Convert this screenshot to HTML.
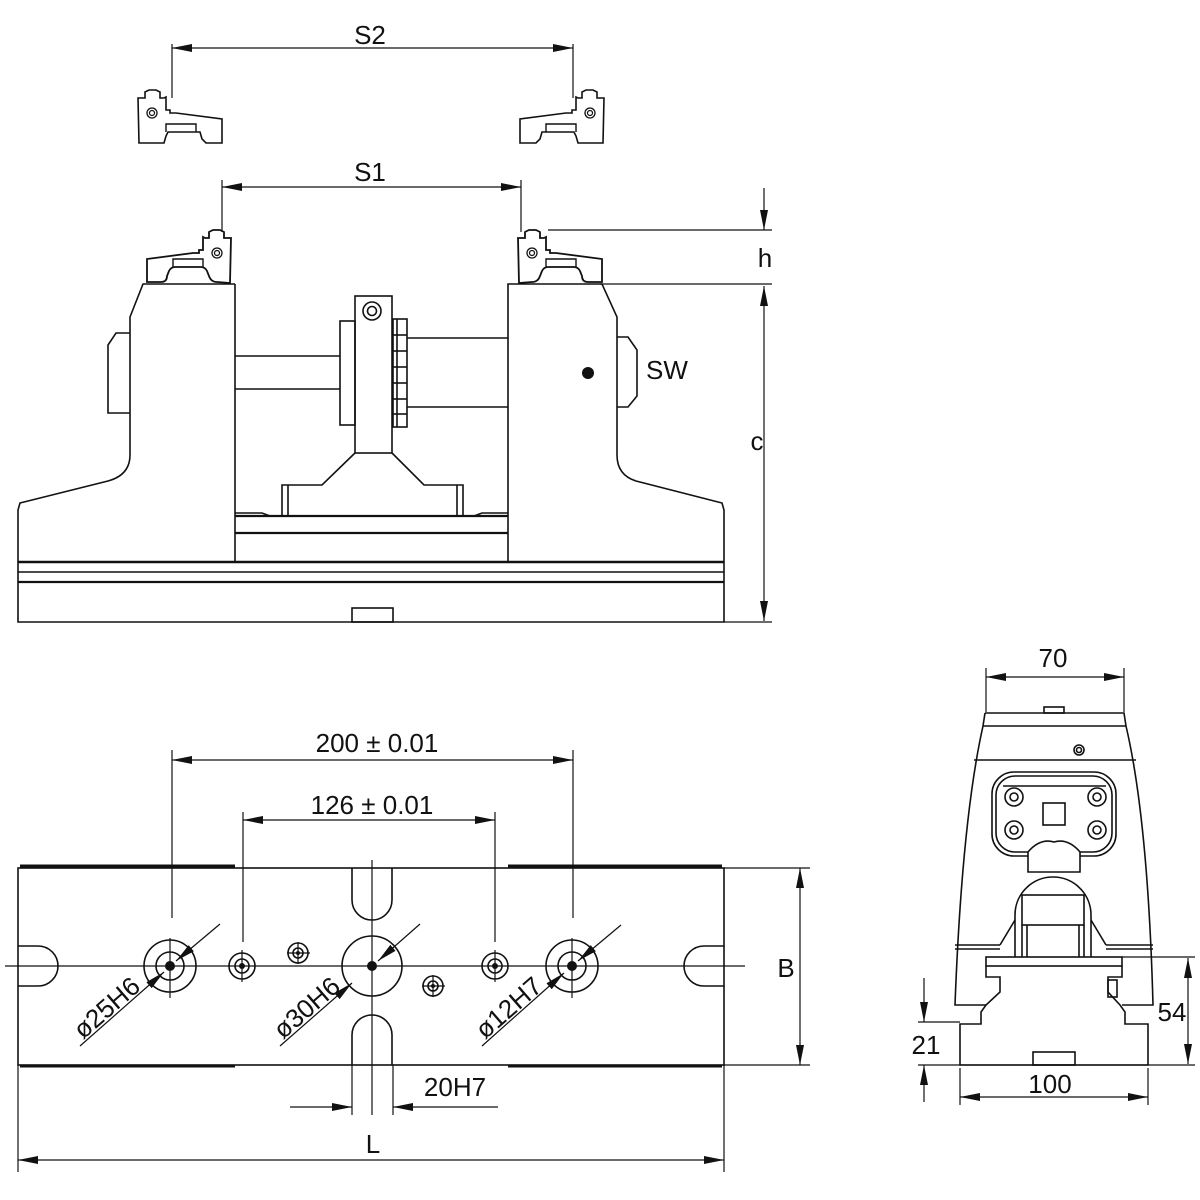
<!DOCTYPE html>
<html><head><meta charset="utf-8"><style>
html,body{margin:0;padding:0;background:#fff}
svg{display:block}
text{font-family:"Liberation Sans",sans-serif;fill:#111;font-size:26px}
</style></head><body>
<svg width="1200" height="1200" viewBox="0 0 1200 1200" xmlns="http://www.w3.org/2000/svg">
<defs>
<marker id="a" viewBox="0 0 20 8" refX="20" refY="4" markerWidth="20" markerHeight="8" markerUnits="userSpaceOnUse" orient="auto-start-reverse"><path d="M0,0 L20,4 L0,8 Z" fill="#111"/></marker>
<g id="jaw">
<path d="M144,98 L151,98 L151,92 L155,90 L162,90 L166,92 L166,98 L170,98 L172,97 L172,110 L176,110 L176,113 L182,113 L228,119 L228,143 L212,143 L208,139 L206,132 L174,132 L172,136 L170,143 L145,143 Z" fill="#fff" stroke="#111" stroke-width="1.6"/>
<path d="M172,132 L172,124 L202,124 L202,132" fill="none" stroke="#111" stroke-width="1.4"/>
<circle cx="158" cy="113" r="5" fill="none" stroke="#111" stroke-width="1.3"/>
<circle cx="158" cy="113" r="2.5" fill="none" stroke="#111" stroke-width="1.2"/>
</g>
<g id="jaw2">
<path d="M144,98 L151,98 L151,92 L155,90 L162,90 L166,92 L166,98 L170,98 L172,97 L172,110 L176,110 L176,113 L182,113 L228,119 L228,142 L214,142 Q208,142 208,136 L206,131 Q204,127 200,127 L174,127 Q170,127 168,131 L166,136 Q164,142 158,142 L145,143 Z" fill="#fff" stroke="#111" stroke-width="1.8"/>
<path d="M172,127 L172,119 L202,119 L202,127" fill="none" stroke="#111" stroke-width="1.4"/>
<circle cx="158" cy="113" r="5" fill="none" stroke="#111" stroke-width="1.3"/>
<circle cx="158" cy="113" r="2.5" fill="none" stroke="#111" stroke-width="1.2"/>
</g>
</defs>
<g fill="none" stroke="#111" stroke-width="1.6">
<line x1="172" y1="44" x2="172" y2="98" stroke-width="1.2"/>
<line x1="573" y1="44" x2="573" y2="98" stroke-width="1.2"/>
<line x1="172" y1="48" x2="573" y2="48" stroke-width="1.2" marker-start="url(#a)" marker-end="url(#a)"/>
</g>
<text x="370" y="44" text-anchor="middle">S2</text>
<use href="#jaw" transform="translate(-6,0)"/>
<use href="#jaw" transform="translate(748,0) scale(-1,1)"/>
<use href="#jaw2" transform="translate(375,140) scale(-1,1)"/>
<use href="#jaw2" transform="translate(374,140)"/>
<g fill="none" stroke="#111" stroke-width="1.2">
<line x1="222" y1="180" x2="222" y2="232"/>
<line x1="521" y1="180" x2="521" y2="232"/>
<line x1="222" y1="187" x2="521" y2="187" marker-start="url(#a)" marker-end="url(#a)"/>
<line x1="548" y1="230" x2="772" y2="230"/>
<line x1="600" y1="284" x2="772" y2="284"/>
<line x1="764" y1="188" x2="764" y2="230" marker-end="url(#a)"/>
<line x1="764" y1="286" x2="764" y2="621" marker-start="url(#a)" marker-end="url(#a)"/>
<line x1="724" y1="622" x2="772" y2="622"/>
</g>
<text x="370" y="181" text-anchor="middle">S1</text>
<text x="765" y="267" text-anchor="middle">h</text>
<text x="757" y="450" text-anchor="middle">c</text>
<text x="667" y="379" text-anchor="middle">SW</text>
<g fill="none" stroke="#111" stroke-width="1.6">
<path d="M235,284 L143,284 L130,317 L130,455 Q130,475 108,481 L20,503 L18,510 L18,622 L724,622 L724,510 L722,503 L636,481 Q617,475 617,455 L617,317 L602,284 L508,284 L508,562"/>
<line x1="235" y1="284" x2="235" y2="562"/>
<line x1="18" y1="562" x2="724" y2="562" stroke-width="2.5"/>
<line x1="18" y1="572" x2="724" y2="572"/>
<line x1="18" y1="582" x2="724" y2="582" stroke-width="2.3"/>
<path d="M130,333 L116,333 L108,345 L108,413 L130,413"/>
<path d="M617,337 L628,337 L637,350 L637,396 L628,407 L617,407"/>
<rect x="352" y="608" width="41" height="14"/>
<line x1="235" y1="356" x2="340" y2="356"/><line x1="235" y1="389" x2="340" y2="389"/>
<rect x="340" y="321" width="15" height="104"/>
<rect x="355" y="296" width="37" height="157"/>
<circle cx="372" cy="311" r="9"/><circle cx="372" cy="311" r="4.5"/>
<rect x="393" y="319" width="14" height="108"/>
<line x1="397" y1="319" x2="397" y2="427"/>
<line x1="393" y1="335" x2="407" y2="335"/><line x1="393" y1="351" x2="407" y2="351"/><line x1="393" y1="367" x2="407" y2="367"/><line x1="393" y1="383" x2="407" y2="383"/><line x1="393" y1="399" x2="407" y2="399"/><line x1="393" y1="414" x2="407" y2="414"/>
<line x1="407" y1="338" x2="508" y2="338"/><line x1="407" y1="407" x2="508" y2="407"/>
<path d="M355,453 L322,485 L282,485 L282,515 M392,453 L424,485 L463,485 L463,515 M288,485 L288,515 M457,485 L457,515"/>
<line x1="235" y1="516" x2="508" y2="516" stroke-width="2.2"/>
<line x1="235" y1="533" x2="508" y2="533" stroke-width="2.2"/>
<path d="M235,513 L262,513 L270,516 M508,513 L482,513 L474,516"/>
</g>
<circle cx="588" cy="373" r="6" fill="#111"/>
<g fill="none" stroke="#111" stroke-width="1.6">
<rect x="18" y="868" width="706" height="197"/>
<line x1="20" y1="866" x2="235" y2="866" stroke-width="3"/>
<line x1="508" y1="866" x2="722" y2="866" stroke-width="3"/>
<line x1="20" y1="1066" x2="235" y2="1066" stroke-width="3"/>
<line x1="508" y1="1066" x2="722" y2="1066" stroke-width="3"/>
<path d="M352,868 L352,900 A20,20 0 0 0 392,900 L392,868"/>
<path d="M352,1065 L352,1035 A20,20 0 0 1 392,1035 L392,1065"/>
<path d="M18,946 L38,946 A20,20 0 0 1 38,986 L18,986"/>
<path d="M724,946 L704,946 A20,20 0 0 0 704,986 L724,986"/>
<circle cx="170" cy="966" r="26"/><circle cx="170" cy="966" r="14"/>
<circle cx="242" cy="966" r="13"/><circle cx="242" cy="966" r="7"/>
<circle cx="298" cy="953" r="10"/><circle cx="298" cy="953" r="5"/>
<circle cx="372" cy="966" r="30"/>
<circle cx="433" cy="986" r="10"/><circle cx="433" cy="986" r="5"/>
<circle cx="495" cy="966" r="13"/><circle cx="495" cy="966" r="7"/>
<circle cx="572" cy="966" r="26"/><circle cx="572" cy="966" r="14"/>
</g>
<g stroke="#111" stroke-width="1.2" fill="none">
<line x1="5" y1="966" x2="745" y2="966"/>
<line x1="372" y1="860" x2="372" y2="1115"/>
<line x1="170" y1="938" x2="170" y2="998"/><line x1="242" y1="950" x2="242" y2="982"/>
<line x1="287" y1="953" x2="310" y2="953"/><line x1="298" y1="942" x2="298" y2="964"/>
<line x1="422" y1="986" x2="445" y2="986"/><line x1="433" y1="975" x2="433" y2="997"/>
<line x1="495" y1="950" x2="495" y2="982"/><line x1="572" y1="938" x2="572" y2="998"/>
<line x1="172" y1="750" x2="172" y2="918"/><line x1="573" y1="750" x2="573" y2="918"/>
<line x1="172" y1="760" x2="573" y2="760" marker-start="url(#a)" marker-end="url(#a)"/>
<line x1="243" y1="812" x2="243" y2="942"/><line x1="495" y1="812" x2="495" y2="942"/>
<line x1="243" y1="820" x2="495" y2="820" marker-start="url(#a)" marker-end="url(#a)"/>
<line x1="352" y1="1065" x2="352" y2="1115"/><line x1="393" y1="1065" x2="393" y2="1115"/>
<line x1="290" y1="1107" x2="352" y2="1107" marker-end="url(#a)"/>
<line x1="498" y1="1107" x2="393" y2="1107" marker-end="url(#a)"/>
<line x1="18" y1="1065" x2="18" y2="1172"/><line x1="724" y1="1065" x2="724" y2="1172"/>
<line x1="18" y1="1160" x2="724" y2="1160" marker-start="url(#a)" marker-end="url(#a)"/>
<line x1="724" y1="868" x2="810" y2="868"/><line x1="724" y1="1065" x2="810" y2="1065"/>
<line x1="800" y1="868" x2="800" y2="1065" marker-start="url(#a)" marker-end="url(#a)"/>
<line x1="220" y1="924" x2="176" y2="961" marker-end="url(#a)"/>
<line x1="80" y1="1046" x2="164" y2="972" marker-end="url(#a)"/>
<line x1="420" y1="924" x2="378" y2="961" marker-end="url(#a)"/>
<line x1="280" y1="1046" x2="352" y2="983" marker-end="url(#a)"/>
<line x1="621" y1="925" x2="578" y2="961" marker-end="url(#a)"/>
<line x1="482" y1="1046" x2="564" y2="973" marker-end="url(#a)"/>
</g>
<circle cx="170" cy="966" r="5" fill="#111"/><circle cx="242" cy="966" r="3" fill="#111"/>
<circle cx="298" cy="953" r="2" fill="#111"/><circle cx="372" cy="966" r="5" fill="#111"/>
<circle cx="433" cy="986" r="2" fill="#111"/><circle cx="495" cy="966" r="3" fill="#111"/>
<circle cx="572" cy="966" r="5" fill="#111"/>
<text x="377" y="752" text-anchor="middle">200 ± 0.01</text>
<text x="372" y="814" text-anchor="middle">126 ± 0.01</text>
<text x="455" y="1096" text-anchor="middle">20H7</text>
<text x="373" y="1153" text-anchor="middle">L</text>
<text x="786" y="977" text-anchor="middle">B</text>
<text transform="translate(83,1040) rotate(-41)">ø25H6</text>
<text transform="translate(283,1040) rotate(-41)">ø30H6</text>
<text transform="translate(485,1040) rotate(-41)">ø12H7</text>
<g fill="none" stroke="#111" stroke-width="1.6">
<rect x="1044" y="707" width="20" height="6"/>
<path d="M985,713 L1124,713 L1126,726 Q1148,820 1153,1005 L1122,1005 M985,713 L983,726 Q962,820 955,1005 L986,1005"/>
<line x1="983" y1="726" x2="1126" y2="726"/>
<line x1="974" y1="760" x2="1136" y2="760"/>
<circle cx="1079" cy="750" r="5"/><circle cx="1079" cy="750" r="2.5"/>
<rect x="992" y="772" width="124" height="84" rx="22"/>
<rect x="996" y="776" width="116" height="76" rx="19"/>
<line x1="1003" y1="786" x2="1106" y2="786"/>
<circle cx="1014" cy="797" r="9"/><circle cx="1097" cy="797" r="9"/><circle cx="1014" cy="830" r="9"/><circle cx="1097" cy="830" r="9"/>
<circle cx="1014" cy="797" r="4"/><circle cx="1097" cy="797" r="4"/><circle cx="1014" cy="830" r="4"/><circle cx="1097" cy="830" r="4"/>
<rect x="1043" y="803" width="22" height="22"/>
<path d="M1028,872 L1028,852 Q1040,838 1054,842 Q1068,838 1080,852 L1080,872 Z" fill="#fff"/>
<path d="M1015,957 L1015,915 A38,38 0 0 1 1091,915 L1091,957"/>
<path d="M1000,945 L1015,920 M1106,945 L1091,920"/>
<rect x="1022" y="895" width="62" height="30"/>
<path d="M1022,925 L1022,957 M1084,925 L1084,957 M1027,925 L1027,957 M1079,925 L1079,957"/>
<line x1="955" y1="945" x2="1000" y2="945"/><line x1="955" y1="949" x2="1000" y2="949"/>
<line x1="1106" y1="945" x2="1153" y2="945"/><line x1="1106" y1="949" x2="1153" y2="949"/>
<rect x="986" y="957" width="136" height="9" fill="#fff"/>
<path d="M986,966 L986,977 L1000,977 L1000,992 L986,1005 L981,1012 L981,1024 L960,1024 L960,1065 L1148,1065 L1148,1024 L1125,1024 L1125,1012 L1120,1005 L1108,992 L1108,977 L1122,977 L1122,966"/>
<rect x="1108" y="980" width="9" height="17"/>
<rect x="1033" y="1052" width="42" height="13"/>
</g>
<g stroke="#111" stroke-width="1.2" fill="none">
<line x1="986" y1="668" x2="986" y2="712"/><line x1="1124" y1="668" x2="1124" y2="712"/>
<line x1="986" y1="677" x2="1124" y2="677" marker-start="url(#a)" marker-end="url(#a)"/>
<line x1="960" y1="1068" x2="960" y2="1105"/><line x1="1148" y1="1068" x2="1148" y2="1105"/>
<line x1="960" y1="1097" x2="1148" y2="1097" marker-start="url(#a)" marker-end="url(#a)"/>
<line x1="1122" y1="957" x2="1195" y2="957"/><line x1="918" y1="1065" x2="1195" y2="1065"/>
<line x1="1188" y1="958" x2="1188" y2="1064" marker-start="url(#a)" marker-end="url(#a)"/>
<line x1="918" y1="1022" x2="960" y2="1022"/>
<line x1="924" y1="978" x2="924" y2="1022" marker-end="url(#a)"/>
<line x1="924" y1="1102" x2="924" y2="1065" marker-end="url(#a)"/>
</g>
<text x="1053" y="667" text-anchor="middle">70</text>
<text x="1050" y="1093" text-anchor="middle">100</text>
<text x="1172" y="1021" text-anchor="middle">54</text>
<text x="926" y="1054" text-anchor="middle">21</text>
</svg>
</body></html>
